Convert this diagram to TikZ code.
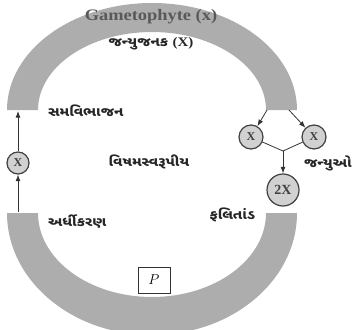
\documentclass[tikz,border=0pt]{standalone}
\usepackage{fontspec}
\usepackage{amsmath}
\usepackage{tikz}
\usetikzlibrary{arrows.meta}
\newfontfamily\gujfont[Script=Gujarati]{Noto Sans Gujarati UI}
\newfontfamily\capfont{Liberation Serif}

\tikzset{
    band/.style={fill=black!32},
    cell/.style={circle, draw=black!75, fill=black!18, line width=1.2pt,
        inner sep=0pt, font=\capfont\bfseries\fontsize{12}{14}\selectfont, text=black!75},
    guj/.style={font=\gujfont\bfseries\fontsize{13}{15}\selectfont, text=black!85, xscale=1.15},
    link/.style={draw=black!80, line width=0.8pt}
}

\begin{document}
\begin{tikzpicture}[x=1pt, y=1pt]

    \useasboundingbox (0,0) rectangle (353,-329);

    \fill[band] (7,-110) arc[start angle=180, end angle=0, x radius=145, y radius=107]
        -- (266,-110) arc[start angle=0, end angle=180, x radius=114, y radius=78] -- cycle;
    \fill[band] (7,-213) arc[start angle=180, end angle=360, x radius=145, y radius=122]
        -- (266,-213) arc[start angle=360, end angle=180, x radius=114, y radius=84] -- cycle;

    \node[font=\capfont\bfseries\fontsize{16}{18}\selectfont, text=black!65, xscale=1.15] (gam)
        at (151,-17) {Gametophyte (x)};
    \node[guj] (gamtxt) at (151,-44) {જન્યુજનક {\capfont(X)}};

    \coordinate (topL) at (18,-111);
    \coordinate (botL) at (18,-212);
    \coordinate (topR1) at (267,-110);
    \coordinate (topR2) at (289,-110);
    \coordinate (join) at (283,-151);

    \node[cell, minimum size=22] (sp) at (18,-163) {X};
    \node[cell, minimum size=24] (gl) at (251,-137) {X};
    \node[cell, minimum size=24] (gr) at (314,-137) {X};
    \node[cell, minimum size=32, font=\capfont\bfseries\fontsize{14}{16}\selectfont] (zy) at (283,-190) {2X};

    \draw[link, ->, >=Latex] (sp) -- (topL);
    \draw[link, ->, >=Latex] (botL) -- (sp);

    \draw[link, ->, >=Latex] (topR1) -- (gl);
    \draw[link, ->, >=Latex] (topR2) -- (gr);
    \draw[link] (gl) -- (join) -- (gr);
    \draw[link, ->, >=Latex] (join) -- (zy);

    \node[guj, anchor=west] (mitosis) at (44,-111) {સમવિભાજન};
    \node[guj, anchor=west] (meiosis) at (44,-222) {અર્ધીકરણ};
    \node[guj] (hetero) at (149,-162) {વિષમસ્વરૂપીય};
    \node[guj, anchor=west] (gametes) at (300,-163) {જન્યુઓ};
    \node[guj, anchor=east] (zygote) at (259,-215) {ફલિતાંડ};

    \node[draw=black!80, line width=0.9pt, minimum width=32, minimum height=26,
        font=\fontsize{15}{17}\selectfont] (pbox) at (154,-280) {$P$};

\end{tikzpicture}
\end{document}
